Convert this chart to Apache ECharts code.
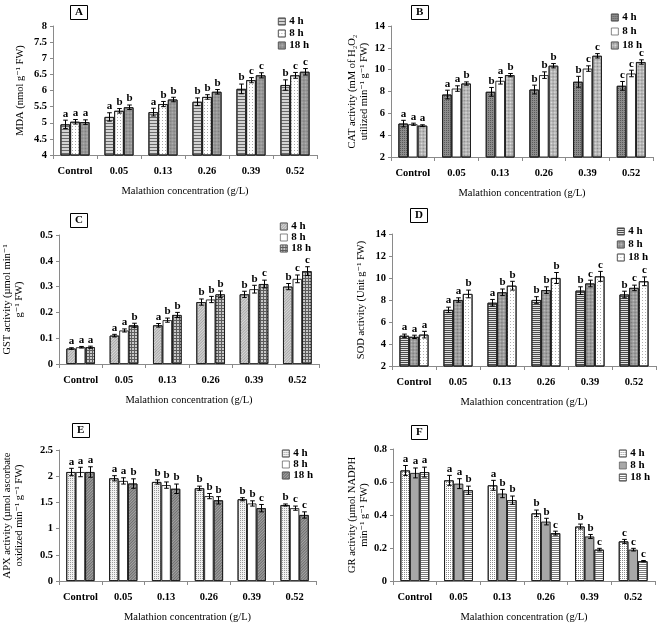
<!DOCTYPE html>
<html><head><meta charset="utf-8">
<script src="https://cdn.jsdelivr.net/npm/echarts@6/dist/echarts.min.js"></script>
<style>html,body{margin:0;padding:0;background:#fff}#c{width:658px;height:624px}</style>
</head><body><div id="c"></div>
<script>
const categories = ['Control','0.05','0.13','0.26','0.39','0.52'];
const seriesNames = ['4 h','8 h','18 h'];
const xAxisName = 'Malathion concentration (g/L)';

// A: MDA
const mda4  = [4.95,5.18,5.33,5.65,6.05,6.17];
const mda8  = [5.03,5.37,5.58,5.80,6.32,6.47];
const mda18 = [5.02,5.48,5.72,5.96,6.47,6.58];
const mdaErr4  = [0.13,0.13,0.12,0.12,0.15,0.16];
const mdaErr8  = [0.07,0.07,0.08,0.07,0.08,0.09];
const mdaErr18 = [0.07,0.07,0.07,0.07,0.08,0.10];
const mdaLet4  = ['a','a','a','b','b','b'];
const mdaLet8  = ['a','b','b','b','c','c'];
const mdaLet18 = ['a','b','b','b','c','c'];
// B: CAT
const cat4  = [5.06,7.72,7.97,8.18,8.89,8.52];
const cat8  = [5.00,8.27,8.98,9.50,10.10,9.65];
const cat18 = [4.87,8.73,9.50,10.36,11.27,10.70];
const catErr4  = [0.30,0.40,0.40,0.40,0.50,0.40];
const catErr8  = [0.10,0.25,0.30,0.30,0.25,0.30];
const catErr18 = [0.08,0.15,0.15,0.20,0.20,0.20];
const catLet4  = ['a','a','b','b','b','c'];
const catLet8  = ['a','a','a','b','c','c'];
const catLet18 = ['a','b','b','b','c','c'];
// C: GST
const gst4  = [0.060,0.110,0.150,0.240,0.270,0.300];
const gst8  = [0.065,0.130,0.170,0.250,0.290,0.330];
const gst18 = [0.065,0.150,0.190,0.270,0.310,0.360];
const gstErr4  = [0.003,0.005,0.007,0.012,0.012,0.012];
const gstErr8  = [0.003,0.006,0.008,0.012,0.015,0.015];
const gstErr18 = [0.004,0.008,0.010,0.013,0.015,0.017];
const gstLet4  = ['a','a','a','b','b','b'];
const gstLet8  = ['a','a','b','b','b','c'];
const gstLet18 = ['a','b','b','b','c','c'];
// D: SOD
const sod4  = [4.75,7.10,7.75,8.00,8.85,8.50];
const sod8  = [4.65,8.00,8.70,8.90,9.50,9.10];
const sod18 = [4.85,8.55,9.30,10.00,10.15,9.70];
const sodErr4  = [0.15,0.25,0.30,0.30,0.35,0.30];
const sodErr8  = [0.15,0.20,0.30,0.30,0.30,0.25];
const sodErr18 = [0.30,0.35,0.40,0.50,0.45,0.40];
const sodLet4  = ['a','a','a','b','b','b'];
const sodLet8  = ['a','a','b','b','c','c'];
const sodLet18 = ['a','b','b','b','c','c'];
// E: APX
const apx4  = [2.08,1.96,1.89,1.77,1.56,1.45];
const apx8  = [2.08,1.91,1.83,1.62,1.48,1.39];
const apx18 = [2.08,1.86,1.76,1.54,1.39,1.26];
const apxErr4  = [0.07,0.05,0.04,0.04,0.03,0.02];
const apxErr8  = [0.09,0.06,0.06,0.05,0.05,0.04];
const apxErr18 = [0.10,0.09,0.09,0.07,0.07,0.06];
const apxLet4  = ['a','a','b','b','b','b'];
const apxLet8  = ['a','a','b','b','b','c'];
const apxLet18 = ['a','b','b','b','c','c'];
// F: GR
const gr4  = [0.670,0.610,0.580,0.410,0.330,0.240];
const gr8  = [0.655,0.590,0.530,0.360,0.270,0.190];
const gr18 = [0.660,0.550,0.490,0.290,0.190,0.120];
const grErr4  = [0.030,0.030,0.030,0.020,0.015,0.012];
const grErr8  = [0.030,0.030,0.025,0.020,0.012,0.008];
const grErr18 = [0.030,0.025,0.025,0.012,0.008,0.004];
const grLet4  = ['a','a','a','b','b','c'];
const grLet8  = ['a','a','b','b','b','c'];
const grLet18 = ['a','b','b','c','c','c'];

const SERIF = '"Liberation Serif", "DejaVu Serif", serif';
const GAP = 0.34;

const dec = {
  hstripe: (c, g) => ({symbol:'rect', symbolSize:1, color:c, dashArrayX:[1,0], dashArrayY:[1,g], rotation:0}),
  dots: (c, g) => ({symbol:'rect', symbolSize:1, color:c, dashArrayX:[1,g], dashArrayY:[1,g], rotation:0}),
  checker: (c, s) => ({symbol:'rect', symbolSize:1, color:c, dashArrayX:[[s,s],[0,s,s,0]], dashArrayY:[s,0], rotation:Math.PI/4}),
  diag: (c, g) => ({symbol:'rect', symbolSize:1, color:c, dashArrayX:[1,0], dashArrayY:[1,g], rotation:-Math.PI/4}),
  brick: (c) => ({symbol:'rect', symbolSize:1, color:c, dashArrayX:[2,1], dashArrayY:[2,1], rotation:0})
};
const st = (fill, decal) => ({color:fill, decal: decal || null});

const panels = [
  {key:'A', vals:[mda4,mda8,mda18], errs:[mdaErr4,mdaErr8,mdaErr18], lets:[mdaLet4,mdaLet8,mdaLet18],
   styles:[st('#d4d4d4',dec.hstripe('#6a6a6a',2)), st('#ffffff',dec.dots('#a8a8a8',2)), st('#b4b4b4',dec.checker('#7a7a7a',1))],
   grid:{left:53,top:26,width:264,height:129}, y:{min:4,max:8,interval:0.5},
   yName:'MDA (nmol g⁻¹ FW)', yGap:27, leg:{left:278,top:16,gap:1}, title:{left:70,top:5}},
  {key:'B', vals:[cat4,cat8,cat18], errs:[catErr4,catErr8,catErr18], lets:[catLet4,catLet8,catLet18],
   styles:[st('#8c8c8c',dec.dots('#5a5a5a',1)), st('#ffffff'), st('#e4e4e4',dec.checker('#8a8a8a',1))],
   grid:{left:391,top:26,width:262,height:131}, y:{min:2,max:14,interval:2},
   yName:'CAT activity (mM of H₂O₂\nutilized min⁻¹ g⁻¹ FW)', yGap:21, leg:{left:611,top:12,gap:3}, title:{left:411,top:5}},
  {key:'C', vals:[gst4,gst8,gst18], errs:[gstErr4,gstErr8,gstErr18], lets:[gstLet4,gstLet8,gstLet18],
   styles:[st('#d8d8d8',dec.diag('#a8a8a8',1)), st('#ffffff'), st('#5c5c5c',dec.brick('#c8c8c8'))],
   grid:{left:53,top:235,width:266,height:129}, y:{min:0,max:0.5,interval:0.1},
   yName:'GST activity (µmol min⁻¹\ng⁻¹ FW)', yGap:34, leg:{left:280,top:221,gap:0}, title:{left:70,top:213}},
  {key:'D', vals:[sod4,sod8,sod18], errs:[sodErr4,sodErr8,sodErr18], lets:[sodLet4,sodLet8,sodLet18],
   styles:[st('#e0e0e0',dec.hstripe('#4a4a4a',1)), st('#c4c4c4',dec.checker('#747474',1)), st('#ffffff',dec.dots('#b0b0b0',2))],
   grid:{left:392,top:234,width:264,height:132}, y:{min:2,max:14,interval:2},
   yName:'SOD activity (Unit g⁻¹ FW)', yGap:25, leg:{left:617,top:226,gap:2}, title:{left:410,top:208}},
  {key:'E', vals:[apx4,apx8,apx18], errs:[apxErr4,apxErr8,apxErr18], lets:[apxLet4,apxLet8,apxLet18],
   styles:[st('#f2f2f2',dec.dots('#9a9a9a',1)), st('#ffffff'), st('#a4a4a4',dec.diag('#6e6e6e',1))],
   grid:{left:53,top:450,width:263,height:133}, y:{min:0,max:2.5,interval:0.5},
   yName:'APX activity (µmol ascorbate\noxidized min⁻¹ g⁻¹ FW)', yGap:34, leg:{left:282,top:448,gap:0}, title:{left:72,top:423}},
  {key:'F', vals:[gr4,gr8,gr18], errs:[grErr4,grErr8,grErr18], lets:[grLet4,grLet8,grLet18],
   styles:[st('#ffffff',dec.dots('#8a8a8a',1)), st('#a8a8a8'), st('#ffffff',dec.hstripe('#7a7a7a',1))],
   grid:{left:393,top:449,width:262,height:134}, y:{min:0,max:0.8,interval:0.2},
   yName:'GR activity (µmol NADPH\nmin⁻¹ g⁻¹ FW)', yGap:23, leg:{left:619,top:448,gap:1}, title:{left:411,top:425}}
];

const grids=[], xAxes=[], yAxes=[], series=[], legends=[], titles=[];
panels.forEach((p, gi) => {
  grids.push(Object.assign({containLabel:false}, p.grid));
  xAxes.push({type:'category', gridIndex:gi, data:categories,
    axisLine:{lineStyle:{color:'#8a8a8a', width:1}},
    axisTick:{show:true, length:4, alignWithLabel:false, lineStyle:{color:'#8a8a8a'}},
    axisLabel:{fontFamily:SERIF, fontWeight:'bold', fontSize:10.5, color:'#000', margin:11, interval:0},
    name:xAxisName, nameLocation:'middle', nameGap:31,
    nameTextStyle:{fontFamily:SERIF, fontSize:10.5, color:'#000'}
  });
  yAxes.push({type:'value', gridIndex:gi, min:p.y.min, max:p.y.max, interval:p.y.interval,
    splitLine:{show:false},
    axisLine:{show:true, lineStyle:{color:'#8a8a8a', width:1}},
    axisTick:{show:true, length:3, lineStyle:{color:'#8a8a8a'}},
    axisLabel:{fontFamily:SERIF, fontWeight:'bold', fontSize:10.5, color:'#000', margin:6},
    name:p.yName, nameLocation:'middle', nameGap:p.yGap, nameRotate:90,
    nameTextStyle:{fontFamily:SERIF, fontSize:10.5, color:'#000', lineHeight:12, align:'center'}
  });
  const legData=[];
  for (let k=0;k<3;k++){
    const nm = p.key + '|' + seriesNames[k];
    legData.push(nm);
    series.push({type:'bar', name:nm, xAxisIndex:gi, yAxisIndex:gi, data:p.vals[k],
      barGap:'0%', barCategoryGap:(GAP*100)+'%', silent:true,
      itemStyle:{color:p.styles[k].color, decal:p.styles[k].decal, borderColor:'#1a1a1a', borderWidth:0.9}
    });
  }
  for (let k=0;k<3;k++){
    const lets = p.lets[k];
    const errs = p.errs[k];
    series.push({type:'custom', xAxisIndex:gi, yAxisIndex:gi, z:5, silent:true,
      data:p.vals[k].map((v,i)=>[i,v,errs[i]]),
      renderItem:(params, api)=>{
        const i=api.value(0), v=api.value(1), e=api.value(2);
        const t=api.coord([i,v+e]), b=api.coord([i,v-e]);
        const bw=api.size([1,0])[0]*(1-GAP)/3;
        const cx=Math.round(t[0]+(k-1)*bw)+0.5;
        const h=2.3;
        const ls={stroke:'#000', lineWidth:1};
        return {type:'group', children:[
          {type:'line', shape:{x1:cx,y1:t[1],x2:cx,y2:b[1]}, style:ls},
          {type:'line', shape:{x1:cx-h,y1:t[1],x2:cx+h,y2:t[1]}, style:ls},
          {type:'line', shape:{x1:cx-h,y1:b[1],x2:cx+h,y2:b[1]}, style:ls},
          {type:'text', style:{text:lets[params.dataIndex], x:cx, y:t[1]-1, align:'center', verticalAlign:'bottom',
             font:'bold 11px "Liberation Serif", serif', fill:'#000'}}
        ]};
      }
    });
  }
  legends.push({orient:'vertical', left:p.leg.left, top:p.leg.top, itemGap:p.leg.gap, padding:0,
    itemWidth:7, itemHeight:7, icon:'rect', selectedMode:false, data:legData,
    itemStyle:{borderColor:'#555', borderWidth:0.7},
    formatter:(n)=>n.split('|')[1],
    textStyle:{fontFamily:SERIF, fontWeight:'bold', fontSize:11, lineHeight:11, color:'#000', padding:[0,0,0,-1]}
  });
  titles.push({text:p.key, left:p.title.left, top:p.title.top, borderWidth:1, borderColor:'#000', padding:[2,5],
    textStyle:{fontFamily:SERIF, fontWeight:'bold', fontSize:11, color:'#000'}});
});

const chart = echarts.init(document.getElementById('c'), null, {renderer:'canvas'});
chart.setOption({animation:false, backgroundColor:'#fff', title:titles, grid:grids, xAxis:xAxes, yAxis:yAxes, legend:legends, series:series});
</script></body></html>
